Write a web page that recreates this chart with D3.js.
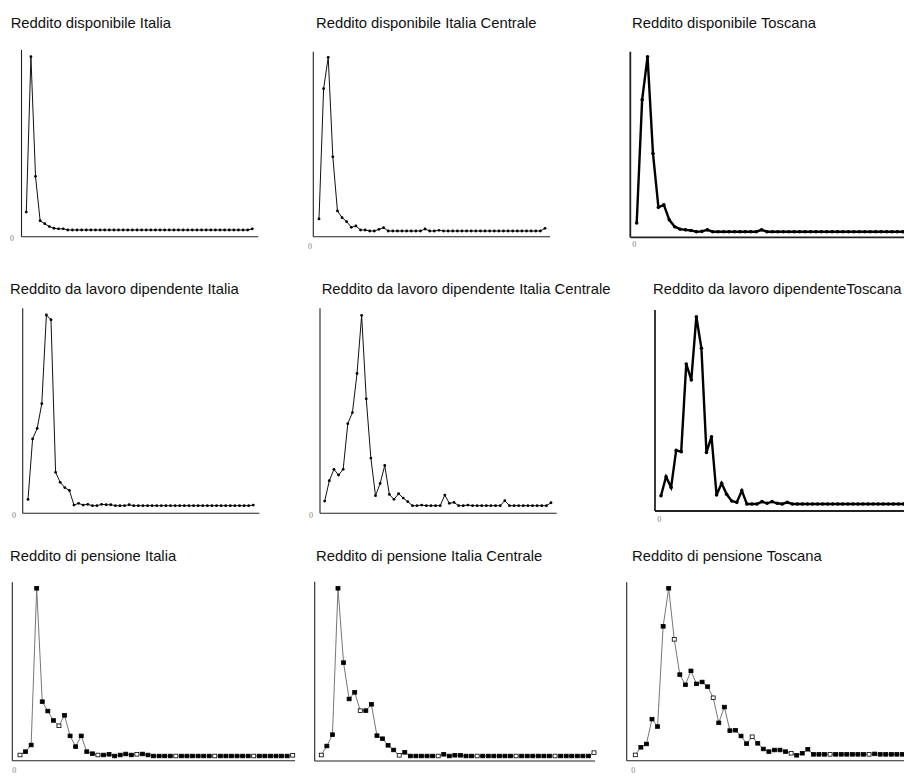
<!DOCTYPE html>
<html>
<head>
<meta charset="utf-8">
<script src="https://cdn.jsdelivr.net/npm/d3@7"></script>
<style>
  html, body { margin: 0; padding: 0; background: #fff; }
  svg { display: block; }
</style>
</head>
<body>
<svg id="chart" width="904" height="778"></svg>
<script>
// ---- income classes (x categories) ----
const classes = [1,2,3,4,5,6,7,8,9,10,11,12,13,14,15,16,17,18,19,20,21,22,23,24,25,
  26,27,28,29,30,31,32,33,34,35,36,37,38,39,40,41,42,43,44,45,46,47,48,49,50];

// ---- titles ----
const titles = [
  "Reddito disponibile Italia", "Reddito disponibile Italia Centrale", "Reddito disponibile Toscana",
  "Reddito da lavoro dipendente Italia", "Reddito da lavoro dipendente Italia Centrale", "Reddito da lavoro dipendenteToscana",
  "Reddito di pensione Italia", "Reddito di pensione Italia Centrale", "Reddito di pensione Toscana"
];
const zeroTick = "0";

// ---- series values (share of households per class, %) ----
const dispItalia = [3.1,30,9.3,1.6,1.1,0.6,0.3,0.2,0.2,0,0,0,0,0,0,0,0,0,0,0,0,0,0,0,0,
  0,0,0,0,0,0,0,0,0,0,0,0,0,0,0,0,0,0,0,0,0,0,0,0,0.2];
const dispCentro = [1.8,21.3,26,11.1,3.0,2.0,1.4,0.55,0.75,0.15,0.15,0,0,0.25,0.5,0,0,0,0,0,0,0,0,0.3,0,
  0,0.1,0,0,0,0,0,0,0,0,0,0,0,0,0,0,0,0,0,0,0,0,0,0,0.4];
const dispToscana = [1.4,21.1,28,12.5,3.9,4.3,1.9,0.8,0.4,0.3,0.2,0,0.05,0.3,0,0,0,0,0,0,0,0,0,0.3,0,
  0,0,0,0,0,0,0,0,0,0,0,0,0,0,0,0,0,0,0,0,0,0,0,0,0];
const lavItalia = [0.66,7.0,8.1,10.7,20,19.5,3.5,2.45,1.9,1.6,0.07,0.25,0.07,0.14,0,0,0.14,0.1,0.1,0,0,0,0.1,0,0,
  0,0,0,0,0,0,0,0,0,0,0,0,0,0,0,0,0,0,0,0,0,0,0,0,0.07];
const lavCentro = [0.44,2.36,3.44,2.9,3.44,7.75,8.8,12.5,18,10.1,4.5,0.95,2.1,3.8,1.07,0.6,1.13,0.72,0.38,0,0,0.06,0,0,0,
  0,1.0,0.22,0.31,0,0,0.06,0,0,0,0,0,0,0,0.47,0,0,0,0,0,0,0,0,0,0.28];
const lavToscana = [0.71,2.33,1.42,4.58,4.47,11.96,10.6,16,13.3,4.41,5.75,0.77,1.77,0.83,0.26,0.14,1.14,0,0,0,0.2,0.06,0.2,0.06,0,
  0.14,0,0,0,0,0,0,0,0,0,0,0,0,0,0,0,0,0,0,0,0,0,0,0,0];
const penItalia = [0.15,0.65,1.64,25,8.1,6.7,5.3,4.5,6.06,3.0,1.4,3.0,0.65,0.35,0.15,0.15,0.25,0,0.15,0.3,0.15,0.25,0.3,0.15,0,
  0,0,0,0,0,0,0,0,0,0,0,0,0,0,0,0,0,0,0,0,0,0,0,0,0.1];
const penCentro = [0.13,1.31,2.8,22,12.25,7.48,8.35,5.95,5.95,6.78,2.67,2.27,1.4,0.79,0.09,0.48,0,0,0,0,0,0,0.22,0,0.09,
  0.09,0,0,0,0,0,0,0,0,0,0,0,0,0,0,0,0,0,0,0,0,0,0,0,0.44];
const penToscana = [0.04,0.86,1.22,3.9,3.1,13.9,18,12.5,8.7,7.6,9.1,7.7,7.9,7.4,6.2,3.5,5.2,2.66,2.7,2.08,1.26,2.0,1.29,0.68,0.4,
  0.57,0.57,0.4,0.22,0,0.22,0.65,0.1,0.1,0.1,0.1,0.1,0.1,0.1,0.1,0.1,0.1,0.1,0.15,0.1,0.1,0.1,0.1,0.1,0.1];

const seriesList = [dispItalia, dispCentro, dispToscana, lavItalia, lavCentro, lavToscana, penItalia, penCentro, penToscana];

// ---- layout (positions only) ----
const layout = [
  {tx:10.7, ty:27.7, ax:21.5, at:50,    ay:236.7, ar:258.3, x0:26.3,  x1:252.3, zy:230,   py:56.7,  zl:[12,238],    kind:"thin"},
  {tx:316,  ty:27.7, ax:313.3,at:51.7,  ay:236.7, ar:550,   x0:319,   x1:545,   zy:231,   py:57.3,  zl:[310,246],   kind:"thin"},
  {tx:632,  ty:27.7, ax:630.3,at:51.7,  ay:237.3, ar:904,   x0:636.7, x1:902.8, zy:231.7, py:56.7,  zl:[634.3,244], kind:"thick"},
  {tx:10,   ty:294.3,ax:22.7, at:308.3, ay:513.3, ar:259.3, x0:28,    x1:253.3, zy:505.7, py:315,   zl:[14,515],    kind:"thin"},
  {tx:321.7,ty:294.3,ax:320,  at:308.3, ay:513.3, ar:556.7, x0:324.7, x1:551,   zy:505.7, py:315.3, zl:[311,515],   kind:"thin"},
  {tx:653,  ty:294.3,ax:655,  at:310,   ay:511,   ar:904,   x0:661,   x1:908.5, zy:504,   py:316.7, zl:[659.3,519], kind:"thick"},
  {tx:10,   ty:561,  ax:12.3, at:582.3, ay:760.7, ar:295,   x0:20,    x1:292.7, zy:756,   py:588.3, zl:[14.3,770],  kind:"pen"},
  {tx:316,  ty:561,  ax:314.7,at:581.7, ay:761,   ar:595,   x0:321.3, x1:594,   zy:756,   py:588.3, zl:null,        kind:"pen"},
  {tx:632,  ty:561,  ax:626.7,at:582.3, ay:760.7, ar:904,   x0:635.3, x1:908,   zy:755.3, py:588.3, zl:[633.3,770], kind:"pen"}
];

const svg = d3.select("#chart");

seriesList.forEach((vals, i) => {
  const L = layout[i];
  const g = svg.append("g");
  const data = classes.map((c, k) => ({c, v: vals[k]}));

  const x = d3.scalePoint().domain(classes).range([L.x0, L.x1]);
  const y = d3.scaleLinear().domain([0, d3.max(vals)]).range([L.zy, L.py]);

  // title
  g.append("text")
    .attr("x", L.tx).attr("y", L.ty)
    .attr("font-family", "Liberation Sans, Arial, sans-serif")
    .attr("font-size", 14.8)
    .attr("fill", "#111")
    .text(titles[i]);

  const axW = L.kind === "thick" ? 1.8 : 1.1;
  // axes
  g.append("line").attr("x1", L.ax).attr("x2", L.ax).attr("y1", L.at).attr("y2", L.ay)
    .attr("stroke", "#222").attr("stroke-width", axW);
  g.append("line").attr("x1", L.ax).attr("x2", L.ar).attr("y1", L.ay).attr("y2", L.ay)
    .attr("stroke", "#222").attr("stroke-width", axW);

  if (L.zl) {
    g.append("text").attr("x", L.zl[0]).attr("y", L.zl[1] + 2.5)
      .attr("text-anchor", "middle")
      .attr("font-family", "Liberation Serif, serif").attr("font-size", 8)
      .attr("fill", "#808080").text(zeroTick);
  }

  const line = d3.line().x(d => x(d.c)).y(d => y(d.v));

  if (L.kind === "thin") {
    g.append("path").datum(data).attr("d", line)
      .attr("fill", "none").attr("stroke", "#111").attr("stroke-width", 1);
    g.selectAll("circle").data(data).join("circle")
      .attr("cx", d => x(d.c)).attr("cy", d => y(d.v)).attr("r", 1.4).attr("fill", "#000");
  } else if (L.kind === "thick") {
    g.append("path").datum(data).attr("d", line)
      .attr("fill", "none").attr("stroke", "#000").attr("stroke-width", 2.4)
      .attr("stroke-linejoin", "miter");
    g.selectAll("circle").data(data).join("circle")
      .attr("cx", d => x(d.c)).attr("cy", d => y(d.v)).attr("r", 1.8).attr("fill", "#000");
  } else {
    g.append("path").datum(data).attr("d", line)
      .attr("fill", "none").attr("stroke", "#777").attr("stroke-width", 1);
    g.selectAll("rect").data(data).join("rect")
      .attr("x", d => x(d.c) - 2).attr("y", d => y(d.v) - 1.8)
      .attr("width", 4).attr("height", 3.6)
      .attr("fill", (d, k) => k % 7 === 0 ? "#fff" : "#000")
      .attr("stroke", "#000").attr("stroke-width", 0.8);
  }
});
</script>
</body>
</html>
